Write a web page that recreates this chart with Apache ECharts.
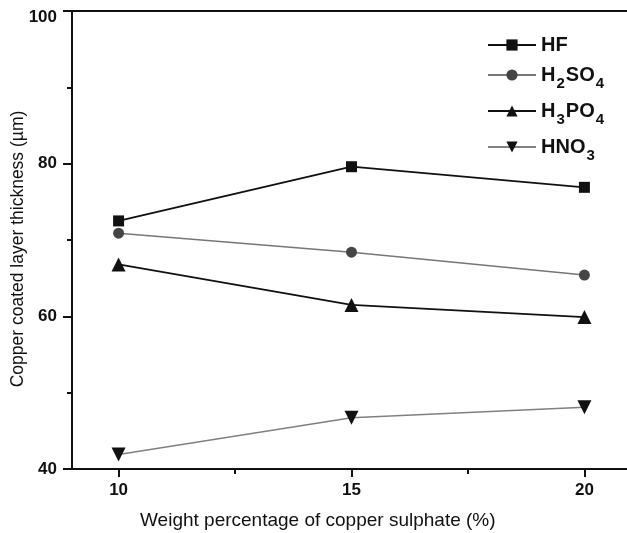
<!DOCTYPE html>
<html>
<head>
<meta charset="utf-8">
<script src="https://cdn.jsdelivr.net/npm/echarts@6/dist/echarts.min.js"></script>
<style>html,body{margin:0;padding:0;background:#fff}#c{width:627px;height:533px}</style>
</head>
<body>
<div id="c"></div>
<script>
var xValues = [10, 15, 20];
var seriesNames = ['HF', 'H2SO4', 'H3PO4', 'HNO3'];
var hfValues = [72.5, 79.6, 76.9];
var h2so4Values = [70.9, 68.4, 65.4];
var h3po4Values = [66.8, 61.5, 59.9];
var hno3Values = [41.9, 46.7, 48.1];
var xTickLabels = [10, 15, 20];
var xMinorTicks = [12.5, 17.5];
var yTickLabels = [40, 60, 80, 100];
var xTitle = 'Weight percentage of copper sulphate (%)';
var yTitle = 'Copper coated layer thickness (µm)';

var legendRich = {
  'HF': '{n|HF}',
  'H2SO4': '{n|H}{s|2}{n|SO}{s|4}',
  'H3PO4': '{n|H}{s|3}{n|PO}{s|4}',
  'HNO3': '{n|HNO}{s|3}'
};

function pairs(vals) { return xValues.map(function (x, i) { return [x, vals[i]]; }); }

var FONT = '"Liberation Sans", Arial, sans-serif';
var chart = echarts.init(document.getElementById('c'), null, { renderer: 'canvas' });

var styles = [
  { data: hfValues, line: '#111', mark: '#111', symbol: 'rect', size: 11, rot: 0, w: 1.8 },
  { data: h2so4Values, line: '#777', mark: '#444', symbol: 'circle', size: 11, rot: 0, w: 1.5 },
  { data: h3po4Values, line: '#111', mark: '#111', symbol: 'triangle', size: 14, rot: 0, w: 1.8 },
  { data: hno3Values, line: '#808080', mark: '#111', symbol: 'triangle', size: 14, rot: 180, w: 1.5 }
];

chart.setOption({
  animation: false,
  backgroundColor: '#fff',
  grid: { left: 72, top: 11, bottom: 64, width: 559, containLabel: false, outerBoundsMode: 'none' },
  legend: {
    orient: 'vertical',
    left: 482,
    top: 30,
    padding: 5,
    itemWidth: 48,
    itemHeight: 14,
    itemGap: 10,
    itemTextGap: 3,
    data: seriesNames,
    formatter: function (name) { return legendRich[name]; },
    textStyle: {
      fontFamily: FONT, fontSize: 20, fontWeight: 'bold', color: '#111',
      rich: {
        n: { fontFamily: FONT, fontSize: 20, fontWeight: 'bold', color: '#111' },
        s: { fontFamily: FONT, fontSize: 15, fontWeight: 'bold', color: '#111', padding: [17, 1, 0, 1], verticalAlign: 'bottom' }
      }
    }
  },
  xAxis: [
    {
      type: 'value', min: 9, max: 21, position: 'bottom',
      axisLine: { show: true, lineStyle: { color: '#111', width: 2 } },
      axisTick: { show: true, customValues: xTickLabels, length: 8, inside: false, lineStyle: { color: '#111', width: 2 } },
      axisLabel: { customValues: xTickLabels, margin: 13, fontFamily: FONT, fontSize: 17, fontWeight: 'bold', color: '#111' },
      splitLine: { show: false }
    },
    {
      type: 'value', min: 9, max: 21, position: 'bottom',
      axisLine: { show: false },
      axisTick: { show: true, customValues: xMinorTicks, length: 5, lineStyle: { color: '#111', width: 2 } },
      axisLabel: { show: false },
      splitLine: { show: false }
    },
    {
      type: 'value', min: 9, max: 21, position: 'top',
      axisLine: { show: true, lineStyle: { color: '#111', width: 2 } },
      axisTick: { show: false },
      axisLabel: { show: false },
      splitLine: { show: false }
    }
  ],
  yAxis: {
    type: 'value', min: 40, max: 100, interval: 20,
    axisLine: { show: true, lineStyle: { color: '#111', width: 2 } },
    axisTick: { show: true, length: 9, lineStyle: { color: '#111', width: 2 } },
    minorTick: { show: true, splitNumber: 2, length: 5, lineStyle: { color: '#111', width: 2 } },
    axisLabel: { margin: 15, fontFamily: FONT, fontSize: 17, fontWeight: 'bold', color: '#111',
      formatter: function (v) {
        if (v === 100) return '{t|' + v + '}';
        return yTickLabels.indexOf(v) >= 0 ? String(v) : '';
      },
      rich: { t: { fontFamily: FONT, fontSize: 17, fontWeight: 'bold', color: '#111', padding: [12, 0, 0, 0] } }
    },
    splitLine: { show: false }
  },
  graphic: [
    {
      type: 'text', left: 140, top: 511,
      style: { text: xTitle, fontFamily: FONT, fontSize: 19, fill: '#111' }
    },
    {
      type: 'text', x: 18, y: 249, rotation: Math.PI / 2,
      style: { text: yTitle, fontFamily: FONT, fontSize: 17.5, fill: '#111', align: 'center', verticalAlign: 'middle' }
    }
  ],
  series: styles.map(function (s, i) {
    return {
      name: seriesNames[i], type: 'line', xAxisIndex: 0,
      data: pairs(s.data),
      symbol: s.symbol, symbolSize: s.size, symbolRotate: s.rot,
      lineStyle: { color: s.line, width: s.w },
      itemStyle: { color: s.mark, borderWidth: 0 },
      color: s.line
    };
  })
});
</script>
</body>
</html>
